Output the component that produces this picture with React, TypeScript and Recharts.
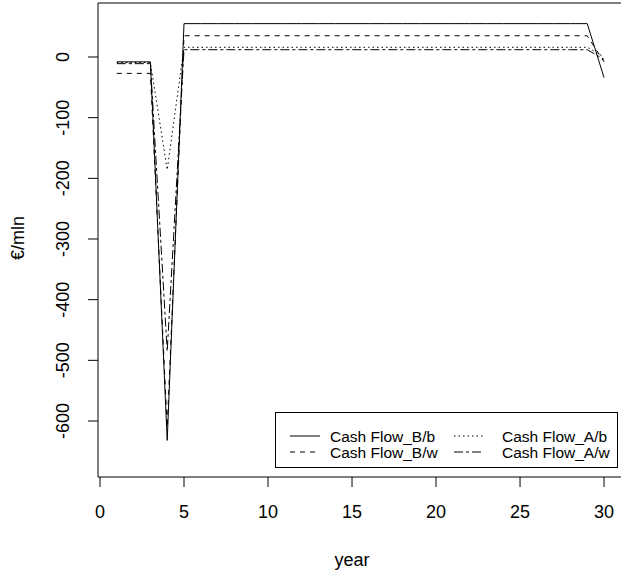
import React from 'react'
import { LineChart, Line, XAxis, YAxis, ReferenceArea } from 'recharts'

const years = [1, 2, 3, 4, 5, 6, 7, 8, 9, 10, 11, 12, 13, 14, 15, 16, 17, 18, 19, 20, 21, 22, 23, 24, 25, 26, 27, 28, 29, 30]

const cashFlowBb = [-8, -8, -8, -632, 55, 55, 55, 55, 55, 55, 55, 55, 55, 55, 55, 55, 55, 55, 55, 55, 55, 55, 55, 55, 55, 55, 55, 55, 55, -34]
const cashFlowBw = [-27, -27, -27, -610, 35, 35, 35, 35, 35, 35, 35, 35, 35, 35, 35, 35, 35, 35, 35, 35, 35, 35, 35, 35, 35, 35, 35, 35, 35, -8]
const cashFlowAb = [-9, -9, -9, -186, 16, 16, 16, 16, 16, 16, 16, 16, 16, 16, 16, 16, 16, 16, 16, 16, 16, 16, 16, 16, 16, 16, 16, 16, 16, 0]
const cashFlowAw = [-11, -11, -11, -485, 12, 12, 12, 12, 12, 12, 12, 12, 12, 12, 12, 12, 12, 12, 12, 12, 12, 12, 12, 12, 12, 12, 12, 12, 12, -4]

const xTicks = [0, 5, 10, 15, 20, 25, 30]
const yTicks = [0, -100, -200, -300, -400, -500, -600]

const series = [
  { key: 'Bb', name: 'Cash Flow_B/b', dash: undefined },
  { key: 'Bw', name: 'Cash Flow_B/w', dash: '5 5' },
  { key: 'Ab', name: 'Cash Flow_A/b', dash: '1.5 3' },
  { key: 'Aw', name: 'Cash Flow_A/w', dash: '9 3 3 3' },
]

const data = years.map((year, i) => ({
  year,
  Bb: cashFlowBb[i],
  Bw: cashFlowBw[i],
  Ab: cashFlowAb[i],
  Aw: cashFlowAw[i],
}))

const FONT = '"Liberation Sans", Arial, sans-serif'
const X_MIN = -0.119
const X_MAX = 32.14
const Y_MIN = -692.3
const Y_MAX = 89

const XTick = (props: any) => {
  const { x, payload } = props
  return (
    <text x={x} y={518} textAnchor="middle" fontSize={18} fontFamily={FONT} fill="#000">
      {payload.value}
    </text>
  )
}

const YTick = (props: any) => {
  const { y, payload } = props
  return (
    <text transform={`translate(69, ${y}) rotate(-90)`} textAnchor="middle" fontSize={18} fontFamily={FONT} fill="#000">
      {payload.value}
    </text>
  )
}

// legend drawn on top of the chart, like R's legend("bottomright", ncol = 2)
const LegendBox = () => {
  const rows = [
    [series[0], series[2]],
    [series[1], series[3]],
  ]
  return (
    <svg width={344} height={57} style={{ position: 'absolute', left: 275, top: 412, display: 'block' }}>
      <rect x={0.5} y={0.5} width={342} height={55} fill="#fff" stroke="#000" />
      {rows.map((row, r) =>
        row.map((s, c) => {
          const cy = 24 + r * 16
          const lx = c === 0 ? 15 : 179
          const tx = c === 0 ? 55 : 227
          return (
            <g key={s.key}>
              <line x1={lx} x2={lx + 30} y1={cy} y2={cy} stroke="#000" strokeDasharray={s.dash} />
              <text x={tx} y={cy + 5.5} fontSize={15.5} fontFamily={FONT} fill="#000">
                {s.name}
              </text>
            </g>
          )
        })
      )}
    </svg>
  )
}

export default function App() {
  return (
    <div style={{ position: 'fixed', left: 0, top: 0, width: 621, height: 577, overflow: 'hidden', background: '#fff' }}>
      <LineChart width={640} height={577} data={data} margin={{ top: 3, right: 0, bottom: 0, left: 0 }}>
        <XAxis
          dataKey="year"
          type="number"
          domain={[X_MIN, X_MAX]}
          allowDataOverflow
          ticks={xTicks}
          tick={<XTick />}
          tickSize={10}
          tickLine={{ stroke: '#000' }}
          axisLine={false}
          height={100}
          label={{ value: 'year', content: () => (
            <text x={352} y={566} textAnchor="middle" fontSize={18} fontFamily={FONT} fill="#000">year</text>
          ) }}
        />
        <YAxis
          type="number"
          domain={[Y_MIN, Y_MAX]}
          allowDataOverflow
          ticks={yTicks}
          tick={<YTick />}
          tickSize={10}
          tickLine={{ stroke: '#000' }}
          axisLine={false}
          width={98}
          label={{ value: '€/mln', content: () => (
            <text transform="translate(24, 238) rotate(-90)" textAnchor="middle" fontSize={18} fontFamily={FONT} fill="#000">€/mln</text>
          ) }}
        />
        <ReferenceArea x1={X_MIN} x2={X_MAX} y1={Y_MIN} y2={Y_MAX} fill="none" stroke="#000" strokeWidth={1} ifOverflow="visible" />
        {series.map((s) => (
          <Line
            key={s.key}
            dataKey={s.key}
            name={s.name}
            stroke="#000"
            strokeWidth={1}
            strokeDasharray={s.dash}
            dot={false}
            activeDot={false}
            type="linear"
            isAnimationActive={false}
          />
        ))}
      </LineChart>
      <LegendBox />
    </div>
  )
}
